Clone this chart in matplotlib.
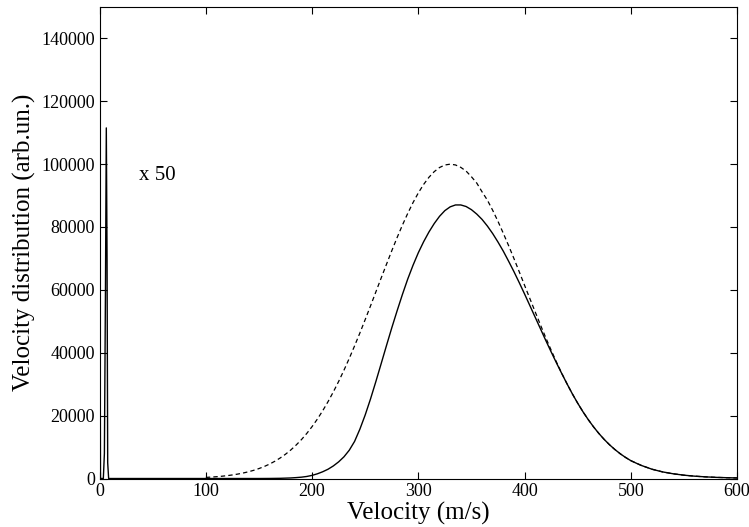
import matplotlib
matplotlib.use("Agg")
import matplotlib.pyplot as plt

plt.rcParams['font.family'] = ['Liberation Serif', 'DejaVu Serif']

# solid curve: low-velocity part (x 50) followed by main distribution
v_solid = [0.0, 0.4, 0.8, 1.5, 3.5, 4.5, 5.5, 6.3, 7.0, 7.6, 8.5, 50, 100, 150, 160, 170, 175, 180, 185, 190, 195,
           200, 205, 210, 215, 220, 225, 230, 235, 240, 245, 250, 255, 260, 265, 270, 275, 280, 285,
           290, 295, 300, 305, 310, 315, 320, 325, 330, 335, 340, 345, 350, 355, 360, 365, 370, 375,
           380, 385, 390, 395, 400, 405, 410, 415, 420, 425, 430, 435, 440, 445, 450, 455, 460, 465,
           470, 475, 480, 485, 490, 495, 500, 505, 510, 520, 530, 540, 550, 560, 570, 580, 590, 600]
f_solid = [0, 56000, 0, 0, 0, 8000, 60000, 111500, 70000, 5000, 0, 0, 0, 0, 20, 65, 120, 180, 290, 430, 650,
           1000, 1500, 2150, 2950, 4000, 5300, 6900, 9000, 11800, 15700, 20220, 25300, 30800, 36500, 42250, 47900, 53300, 58500,
           63400, 67800, 71800, 75300, 78400, 81100, 83400, 85200, 86400, 87000, 87000, 86500, 85500, 84100, 82400, 80300, 77900, 75200,
           72300, 69100, 65800, 62300, 58700, 55000, 51300, 47600, 43900, 40300, 36800, 33400, 30100, 26920, 23970, 21220, 18710, 16400,
           14310, 12420, 10730, 9230, 7890, 6720, 5690, 4900, 4150, 2950, 2100, 1500, 1060, 750, 530, 370, 260, 180]

# dashed curve
v_dash = [100, 105, 110, 115, 120, 125, 130, 135, 140, 145, 150, 155, 160, 165, 170, 175, 180, 185, 190, 195,
          200, 205, 210, 215, 220, 225, 230, 235, 240, 245, 250, 255, 260, 265, 270, 275, 280, 285,
          290, 295, 300, 305, 310, 315, 320, 325, 330, 335, 340, 345, 350, 355, 360, 365, 370, 375,
          380, 385, 390, 395, 400, 405, 410, 415, 420, 425, 430, 435, 440, 445, 450, 455, 460, 465,
          470, 475, 480, 485, 490, 495, 500, 505, 510, 520, 530, 540, 550, 560, 570, 580, 590, 600]
f_dash = [357, 454, 575, 725, 910, 1136, 1408, 1739, 2134, 2605, 3165, 3822, 4595, 5498, 6537, 7727, 9090, 10646, 12380, 14336,
          16510, 18914, 21560, 24433, 27540, 30871, 34440, 38209, 42180, 46287, 50550, 54894, 59320, 63741, 68100, 72418, 76600, 80566,
          84290, 87734, 90830, 93532, 95800, 97601, 98910, 99705, 99970, 99722, 98950, 97763, 95970, 93964, 91170, 88534, 85300, 81777,
          77990, 74058, 69970, 65751, 61460, 57224, 53020, 48826, 44750, 40848, 37060, 33490, 30100, 26923, 23970, 21224, 18710, 16400,
          14310, 12424, 10730, 9227, 7890, 6720, 5690, 4900, 4150, 2950, 2100, 1500, 1060, 750, 530, 370, 260, 180]

fig = plt.figure(figsize=(7.49, 5.27), dpi=100)
ax = fig.add_axes([0.133, 0.092, 0.851, 0.895])

ax.plot(v_solid, f_solid, color='black', lw=1.0)
ax.plot(v_dash, f_dash, color='black', lw=0.9, dashes=(3.5, 2.5))

ax.text(37, 96500, 'x 50', fontsize=15, va='center', ha='left')

ax.set_xlim(0, 600)
ax.set_ylim(0, 150000)
ax.set_xticks(range(0, 601, 100))
ax.set_yticks(range(0, 140001, 20000))
ax.tick_params(direction='in', top=True, right=True, length=5, width=0.8, labelsize=13)
for s in ax.spines.values():
    s.set_linewidth(0.8)

ax.set_xlabel('Velocity (m/s)', fontsize=18, labelpad=1)
ax.set_ylabel('Velocity distribution (arb.un.)', fontsize=18, labelpad=4)

fig.savefig('out.png', dpi=100)
